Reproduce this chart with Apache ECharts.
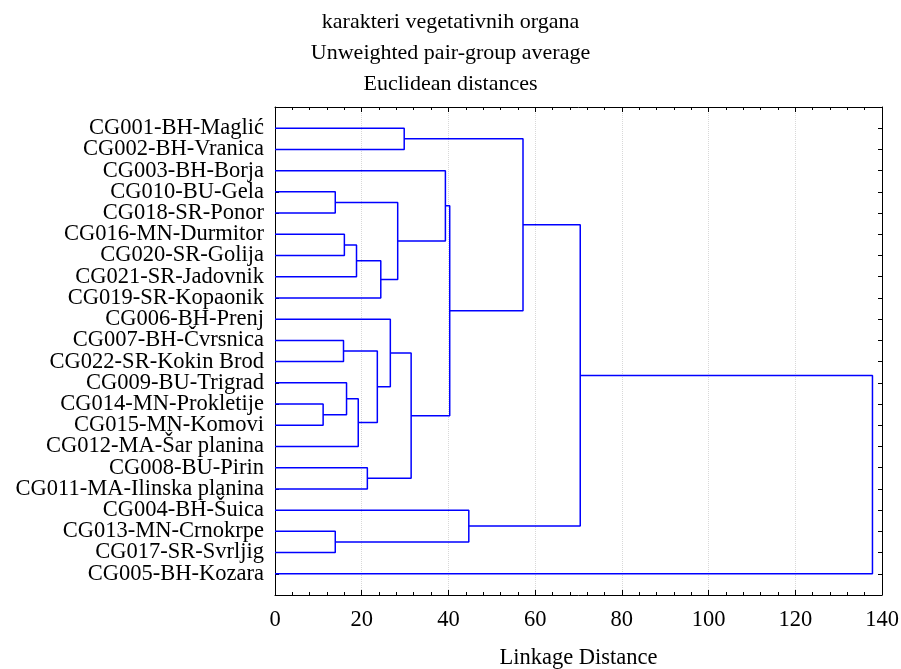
<!DOCTYPE html>
<html>
<head>
<meta charset="utf-8">
<script src="https://cdn.jsdelivr.net/npm/echarts@6/dist/echarts.min.js"></script>
<style>
  html, body { margin: 0; padding: 0; background: #fff; }
  #chart { width: 901px; height: 669px; }
</style>
</head>
<body>
<div id="chart"></div>
<script>
  // leaves, top to bottom
  var leafNames = [
    'CG001-BH-Maglić', 'CG002-BH-Vranica', 'CG003-BH-Borja', 'CG010-BU-Gela',
    'CG018-SR-Ponor', 'CG016-MN-Durmitor', 'CG020-SR-Golija', 'CG021-SR-Jadovnik',
    'CG019-SR-Kopaonik', 'CG006-BH-Prenj', 'CG007-BH-Čvrsnica', 'CG022-SR-Kokin Brod',
    'CG009-BU-Trigrad', 'CG014-MN-Prokletije', 'CG015-MN-Komovi', 'CG012-MA-Šar planina',
    'CG008-BU-Pirin', 'CG011-MA-Ilinska planina', 'CG004-BH-Šuica', 'CG013-MN-Crnokrpe',
    'CG017-SR-Svrljig', 'CG005-BH-Kozara'
  ];

  // merges: number = leaf index, 'cN' = earlier merge N
  var mergeLeft = [0, 3, 5, 'c2', 'c3', 'c1', 2, 10, 13, 12, 'c9', 'c7', 9, 16, 'c12', 'c6', 'c0', 19, 18, 'c16', 'c19'];
  var mergeRight = [1, 4, 6, 7, 8, 'c4', 'c5', 11, 14, 'c8', 15, 'c10', 'c11', 17, 'c13', 'c14', 'c15', 20, 'c17', 'c18', 21];
  var mergeDistance = [29.8, 13.9, 16.0, 18.8, 24.4, 28.3, 39.3, 15.8, 11.1, 16.5, 19.2, 23.6, 26.6, 21.3, 31.4, 40.3, 57.2, 13.9, 44.7, 70.4, 137.8];

  var xTicks = [0, 20, 40, 60, 80, 100, 120, 140];

  var fontFamily = 'Liberation Serif';
  var clusterPos = [];

  function nodeInfo(ref) {
    if (typeof ref === 'number') {
      return { y: ref + 1, h: 0 };
    }
    return clusterPos[parseInt(ref.slice(1), 10)];
  }

  var series = [];
  for (var i = 0; i < mergeDistance.length; i++) {
    var a = nodeInfo(mergeLeft[i]);
    var b = nodeInfo(mergeRight[i]);
    var d = mergeDistance[i];
    clusterPos.push({ y: (a.y + b.y) / 2, h: d });
    series.push({
      type: 'line',
      xAxisIndex: 0,
      yAxisIndex: 0,
      symbol: 'none',
      silent: true,
      lineStyle: { color: '#0000ff', width: 1.5 },
      data: [[a.h, a.y], [d, a.y], [d, b.y], [b.h, b.y]]
    });
  }

  var chart = echarts.init(document.getElementById('chart'));

  var xAxisBase = {
    type: 'value',
    min: xTicks[0],
    max: xTicks[xTicks.length - 1],
    interval: 20,
    axisLine: { show: true, onZero: false, lineStyle: { color: '#000', width: 1 } },
    axisTick: { show: true, inside: true, length: 5, lineStyle: { color: '#000' } },
    minorTick: { show: true, splitNumber: 5, length: 3, lineStyle: { color: '#000' } },
    minorSplitLine: { show: false }
  };

  var yAxisBase = {
    type: 'value',
    min: 0,
    max: leafNames.length + 1,
    interval: 1,
    inverse: true,
    axisLine: { show: true, onZero: false, lineStyle: { color: '#000', width: 1 } },
    axisTick: { show: true, inside: true, length: 4, lineStyle: { color: '#000' } },
    splitLine: { show: false }
  };

  chart.setOption({
    backgroundColor: '#fff',
    animation: false,
    title: {
      text: 'karakteri vegetativnih organa\nUnweighted pair-group average\nEuclidean distances',
      left: 'center',
      top: 2,
      textStyle: {
        fontFamily: fontFamily,
        fontSize: 22,
        fontWeight: 'normal',
        color: '#000',
        lineHeight: 31
      }
    },
    grid: { left: 275, right: 19, top: 107, bottom: 74, containLabel: false, outerBoundsMode: 'none' },
    xAxis: [
      Object.assign({}, xAxisBase, {
        position: 'bottom',
        name: 'Linkage Distance',
        nameLocation: 'middle',
        nameGap: 52,
        nameTextStyle: { fontFamily: fontFamily, fontSize: 22.5, color: '#000' },
        axisLabel: { fontFamily: fontFamily, fontSize: 22.5, color: '#000', margin: 14 },
        splitLine: { show: true, lineStyle: { color: '#d8d8d8', type: 'dotted', width: 1 } }
      }),
      Object.assign({}, xAxisBase, {
        position: 'top',
        axisLabel: { show: false },
        splitLine: { show: false }
      })
    ],
    yAxis: [
      Object.assign({}, yAxisBase, {
        position: 'left',
        axisLabel: {
          fontFamily: fontFamily,
          fontSize: 22.5,
          color: '#000',
          margin: 11,
          formatter: function (v) {
            return leafNames[v - 1] || '';
          }
        }
      }),
      Object.assign({}, yAxisBase, {
        position: 'right',
        axisLabel: { show: false }
      })
    ],
    series: series
  });
</script>
</body>
</html>
